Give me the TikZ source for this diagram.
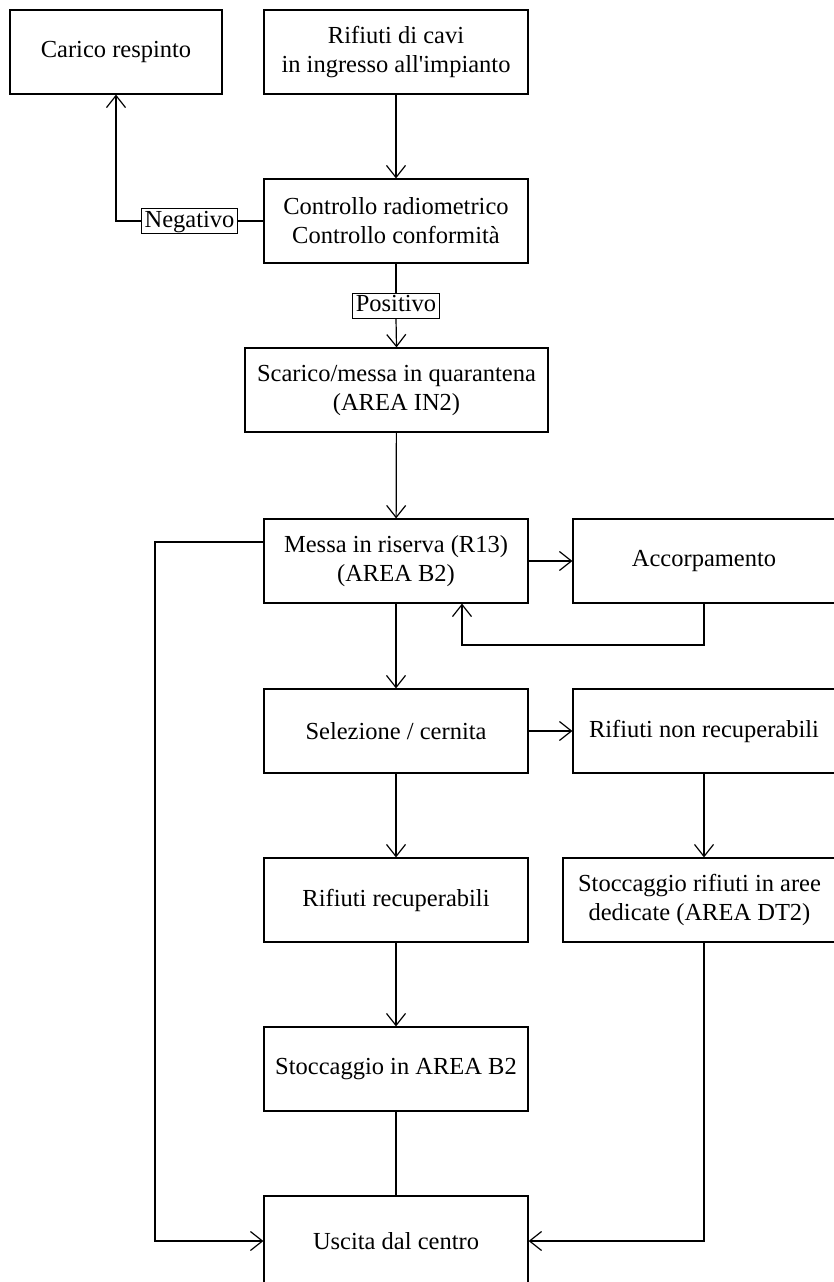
\documentclass[tikz,border=0pt]{standalone}
\usepackage{fontspec}
\setmainfont{Liberation Serif}[Ligatures=TeXOff]
\usetikzlibrary{arrows.meta}
\begin{document}
\begin{tikzpicture}[x=1pt,y=-1pt,
  box/.style={draw, line width=1.2pt, minimum height=84pt, align=center,
    font=\fontsize{24.5}{29}\selectfont, inner sep=0pt},
  tag/.style={draw, fill=white, line width=1pt, inner xsep=3pt, inner ysep=1.5pt,
    font=\fontsize{24.5}{29}\selectfont, text height=17pt, text depth=5pt},
  link/.style={line width=1.2pt, -{Straight Barb[length=12pt,width=19pt,line width=1.2pt]}},
  plain/.style={line width=1.2pt}]
\useasboundingbox (0,0) rectangle (834,1282);

% boxes
\node[box, minimum width=212pt] (carico) at (116,52) {Carico respinto};
\node[box, minimum width=264pt] (ingresso) at (396,52) {Rifiuti di cavi\\in ingresso all'impianto};
\node[box, minimum width=264pt] (ctrl) at (396,221) {Controllo radiometrico\\Controllo conformità};
\node[box, minimum width=303pt] (scarico) at (396.5,390) {Scarico/messa in quarantena\\(AREA IN2)};
\node[box, minimum width=264pt] (messa) at (396,561) {Messa in riserva (R13)\\(AREA B2)};
\node[box, minimum width=262pt] (accorp) at (704,561) {Accorpamento};
\node[box, minimum width=264pt] (sel) at (396,731) {Selezione / cernita};
\node[box, minimum width=262pt] (nonrec) at (704,731) {Rifiuti non recuperabili};
\node[box, minimum width=264pt] (recup) at (396,900) {Rifiuti recuperabili};
\node[box, minimum width=273pt] (dt) at (699.5,900) {Stoccaggio rifiuti in aree\\dedicate (AREA DT2)};
\node[box, minimum width=264pt] (b2) at (396,1069) {Stoccaggio in AREA B2};
\node[box, minimum width=264pt, minimum height=90pt] (uscita) at (396,1241) {Uscita dal centro};

% labels on connectors
\node[tag] (neg) at (189.5,221) {Negativo};
\node[tag] (pos) at (396,305.5) {Positivo};

% routing points
\coordinate (lc) at (155,0);
\coordinate (lp) at (462,645);
\coordinate (mw) at ([yshift=19pt]messa.west);

% connectors
\draw[link] (ingresso) -- (ctrl);
\draw[plain] (ctrl.west) -- (neg.east);
\draw[link] (neg.west) -| (carico.south);
\draw[plain] (ctrl.south) -- (pos.north);
\draw[link] (pos.south) -- (scarico.north);
\draw[link] (scarico) -- (messa);
\draw[link] (messa) -- (accorp);
\draw[link] (accorp.south) -- (accorp.south |- lp) -- (lp) -- (lp |- messa.south);
\draw[link] (mw) -- (lc |- mw) -- (lc |- uscita.west) -- (uscita.west);
\draw[link] (messa) -- (sel);
\draw[link] (sel) -- (nonrec);
\draw[link] (nonrec.south) -- (nonrec.south |- dt.north);
\draw[link] (sel) -- (recup);
\draw[link] (recup) -- (b2);
\draw[plain] (b2) -- (uscita);
\draw[link] (dt.south -| nonrec.south) -- (nonrec.south |- uscita.east) -- (uscita.east);
\end{tikzpicture}
\end{document}
